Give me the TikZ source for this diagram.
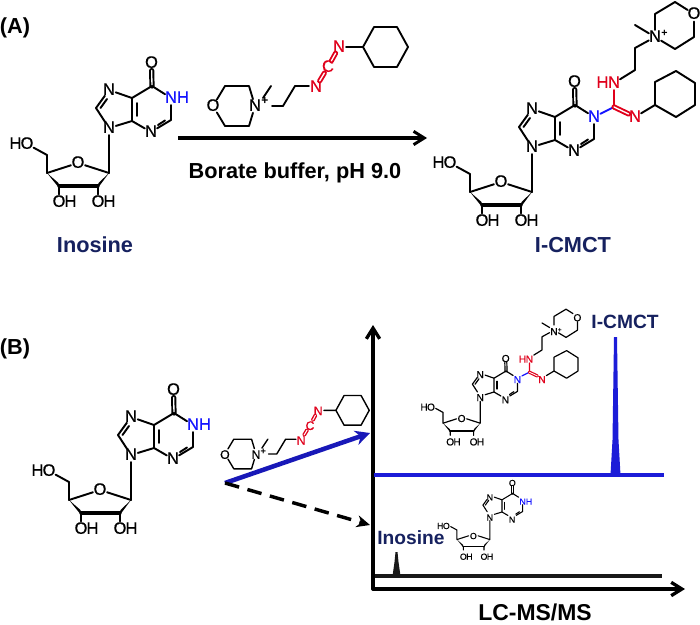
\documentclass[tikz,border=0pt]{standalone}
\usepackage{fontspec}
\setmainfont{Liberation Sans}
\newfontfamily\molface[FakeBold=0.5]{Liberation Sans}
\usetikzlibrary{arrows.meta}
\definecolor{chemred}{HTML}{E0001B}
\definecolor{chemblue}{HTML}{1414FF}
\definecolor{navy}{HTML}{16215F}
\definecolor{traceblue}{HTML}{1C1CD8}
\definecolor{arrowblue}{HTML}{1818B8}
\tikzset{
  atom/.style={circle,inner sep=-0.8pt,text height=0.72em,text depth=0pt},
  plain/.style={inner sep=0pt,text height=0.72em,text depth=0pt},
  dbl/.style={double=white,double distance=#1},
  title/.style={font=\fontsize{#1}{#1}\selectfont\bfseries,inner sep=0pt},
  axis/.style={line width=2.5pt,line cap=round,-{Straight Barb[length=8pt,width=10pt,line width=2.5pt]}},
  react/.style={line width=2.4pt,-{Straight Barb[length=8pt,width=10pt,line width=2.2pt]}}
}
% #1 prefix, #2 x, #3 y of C4, #4 scale, #5 font size, #6 line width, #7 double gap, #8 extra
\newcommand\inosine[8]{%
\begin{scope}[name prefix=#1-,shift={(#2,#3)},scale=#4,shift={(-132,-121)},
  font=\fontsize{#5}{#5}\selectfont\molface,line width=#6,line join=round,line cap=round]
  \coordinate (c4) at (132,121);
  \coordinate (c5) at (132,98);
  \coordinate (c6) at (152,86);
  \coordinate (c2) at (171,120);
  \coordinate (c8) at (96,108);
  \coordinate (c1p) at (109,173);
  \coordinate (c2p) at (98,186);
  \coordinate (c3p) at (59,186);
  \coordinate (c4p) at (47,173);
  \coordinate (c5p) at (47,155);
  \node[atom] (o6) at (151.5,63) {O};
  \node[atom] (n3) at (151,132) {N};
  \node[atom] (n7) at (109,90) {N};
  \node[atom] (n9) at (109,128) {N};
  \node[atom] (o4p) at (78,163) {O};
  \node[atom] (o5p) at (27,144) {O};
  \node[plain] (h5p) at (15.5,144) {H};
  \node[atom] (o3p) at (59,202) {O};
  \node[plain] (h3p) at (70.5,202) {H};
  \node[atom] (o2p) at (98,202) {O};
  \node[plain] (h2p) at (109.5,202) {H};
  \node[atom,text=chemblue] (n1) at (171,98) {N};
  \draw[dbl=#7] (c6) -- (o6);
  \draw (c4) -- (c5) -- (c6) -- (n1) -- (c2) -- (n3) -- (c4) -- (n9) -- (c8) -- (n7) -- (c5);
  \draw (137,103) -- (137,116);
  \draw (158,125) -- (165,120.5);
  \draw (100.5,108) -- (107,99);
  \draw (n9) -- (c1p) -- (o4p) -- (c4p) -- (c5p) -- (o5p);
  \draw[line width=1.7*#6] (c3p) -- (c2p);
  \fill (c4p) -- (58.5,183) -- (59.5,188.5) -- cycle;
  \fill (c1p) -- (98.5,183) -- (97.5,188.5) -- cycle;
  \draw (c3p) -- (o3p);
  \draw (c2p) -- (o2p);
  #8
\end{scope}}
% N+ morpholine reagent; #1 prefix, #2 x, #3 y of N+, #4 scale, #5 font, #6 lw, #7 gap, #8 plus size
\newcommand\reagent[8]{%
\begin{scope}[name prefix=#1-,shift={(#2,#3)},scale=#4,shift={(-255,-106)},
  font=\fontsize{#5}{#5}\selectfont\molface,line width=#6,line join=round,line cap=round]
  \node[atom] (o) at (213,106) {O};
  \coordinate (r1) at (225,86);
  \coordinate (r2) at (249,86);
  \coordinate (r4) at (249,126);
  \coordinate (r5) at (225,126);
  \node[atom] (np) at (255,106) {N};
  \node[plain,font=\fontsize{#8}{#8}\selectfont\bfseries] (plus) at (265,100) {+};
  \coordinate (me) at (271,86);
  \coordinate (a1) at (272,106);
  \coordinate (a2) at (283,106);
  \coordinate (a3) at (295,86);
  \coordinate (a4) at (309,86);
  \node[atom,text=chemred] (nr1) at (316,87) {N};
  \node[atom,text=chemred] (cr) at (328,67) {C};
  \node[atom,text=chemred] (nr2) at (339,47) {N};
  \coordinate (cy1) at (363,47);
  \coordinate (cy2) at (374,27);
  \coordinate (cy3) at (397,27);
  \coordinate (cy4) at (408,47);
  \coordinate (cy5) at (397,67);
  \coordinate (cy6) at (374,67);
  \draw (o) -- (r1) -- (r2) -- (np) -- (r4) -- (r5) -- (o);
  \draw (263,98) -- (me);
  \draw (a1) -- (a2) -- (a3) -- (a4);
  \draw[chemred,dbl=#7] (nr1) -- (cr);
  \draw[chemred,dbl=#7] (cr) -- (nr2);
  \draw (nr2) -- (cy1) -- (cy2) -- (cy3) -- (cy4) -- (cy5) -- (cy6) -- (cy1);
\end{scope}}
% substituent on N1 of the inosine core (A-panel coordinates)
\newcommand\arm[2]{%
  \coordinate (g) at (191,88);
  \node[atom,text=chemred] (nh) at (191,64) {N};
  \node[plain,text=chemred] (hh) at (179.5,64) {H};
  \coordinate (k1) at (212,51);
  \coordinate (k2) at (212,29);
  \node[atom] (np) at (232,18) {N};
  \node[plain,font=\fontsize{#1}{#1}\selectfont\bfseries] (plus) at (241.5,13) {+};
  \coordinate (me) at (212,6);
  \coordinate (r1) at (232,-5);
  \coordinate (r2) at (252,-17);
  \node[atom] (om) at (271,-5) {O};
  \coordinate (r4) at (271,18);
  \coordinate (r5) at (252,30);
  \node[atom,text=chemred] (ni) at (212,98) {N};
  \coordinate (y1) at (232,86);
  \coordinate (y2) at (232,63);
  \coordinate (y3) at (253,52);
  \coordinate (y4) at (272,64);
  \coordinate (y5) at (272,86);
  \coordinate (y6) at (253,98);
  \draw[chemblue] (n1) -- (g);
  \draw[chemred] (g) -- (nh);
  \draw[chemred,dbl=#2] (g) -- (ni);
  \draw (nh) -- (k1) -- (k2) -- (np);
  \draw (np) -- (me);
  \draw (np) -- (r1) -- (r2) -- (om) -- (r4) -- (r5) -- (np);
  \draw (ni) -- (y1) -- (y2) -- (y3) -- (y4) -- (y5) -- (y6) -- (y1);
}
\begin{document}
\begin{tikzpicture}[x=0.75pt,y=-0.75pt]
\useasboundingbox (0,0) rectangle (700,625);
\fill[white] (0,0) rectangle (700,625);

% Panel A
\node[title=16.3] (labA) at (15,28) {(A)};
\inosine{ia}{132}{121}{1}{12.4}{1.45pt}{1pt}{\node[plain,text=chemblue] (h1) at (183,98) {H};}
\node[title=16.3,text=navy] (nameA) at (95,245) {Inosine};
\reagent{ra}{255}{106}{1}{12.4}{1.4pt}{1pt}{9}
\coordinate (a1s) at (178,138);
\coordinate (a1e) at (427,138);
\draw[react] (a1s) -- (a1e);
\node[title=16.3] (cond) at (295,173) {Borate buffer, pH 9.0};
\inosine{ca}{555}{140}{1}{12.4}{1.45pt}{1pt}{\arm{8}{1pt}}
\node[title=16.3,text=navy] (nameC) at (573,245) {I-CMCT};

% Panel B
\node[title=16.3] (labB) at (15,349) {(B)};
\inosine{ib}{154}{448}{1}{12.4}{1.45pt}{1pt}{\node[plain,text=chemblue] (h1) at (183,98) {H};}
\reagent{rb}{256}{454}{0.74}{9.2}{1.05pt}{0.75pt}{7}

\coordinate (bs) at (225,483);
\coordinate (be1) at (370,433);
\coordinate (be2) at (370,525);
\draw[line width=3.4pt,arrowblue,-{Stealth[length=11pt,width=11pt]}] (bs) -- (be1);
\draw[line width=2.6pt,dash pattern=on 11pt off 6.5pt,-{Stealth[length=10pt,width=9pt]}] (bs) -- (be2);

\coordinate (orig) at (373,589);
\coordinate (ytop) at (373,325);
\coordinate (xend) at (685,589);
\draw[axis] (orig) -- (ytop);
\draw[axis] (orig) -- (xend);

\coordinate (tb1) at (374,475);
\coordinate (tb2) at (664,475);
\draw[traceblue,line width=2.6pt] (tb1) -- (tb2);
\fill[traceblue] (610.5,475) -- (612.5,440) -- (614,337) -- (617,337) -- (618.5,440) -- (620.5,475) -- cycle;
\coordinate (tk1) at (375,576);
\coordinate (tk2) at (662,576);
\draw[line width=2.6pt,black!90] (tk1) -- (tk2);
\fill[black!90] (392.5,576) -- (394.5,562) -- (395.5,552) -- (397.5,552) -- (398.5,562) -- (400.5,576) -- cycle;

\inosine{cb}{494}{392}{0.6}{7.6}{0.9pt}{0.6pt}{\arm{5}{0.6pt}}
\inosine{ic}{502}{512}{0.53}{6.6}{0.8pt}{0.5pt}{\node[plain,text=chemblue] (h1) at (183,98) {H};}

\node[title=14.4,text=navy] (peakC) at (625,322) {I-CMCT};
\node[title=14.4,text=navy] (peakI) at (411,538) {Inosine};
\node[title=17.2] (xlab) at (535,612.5) {LC-MS/MS};
\end{tikzpicture}
\end{document}
